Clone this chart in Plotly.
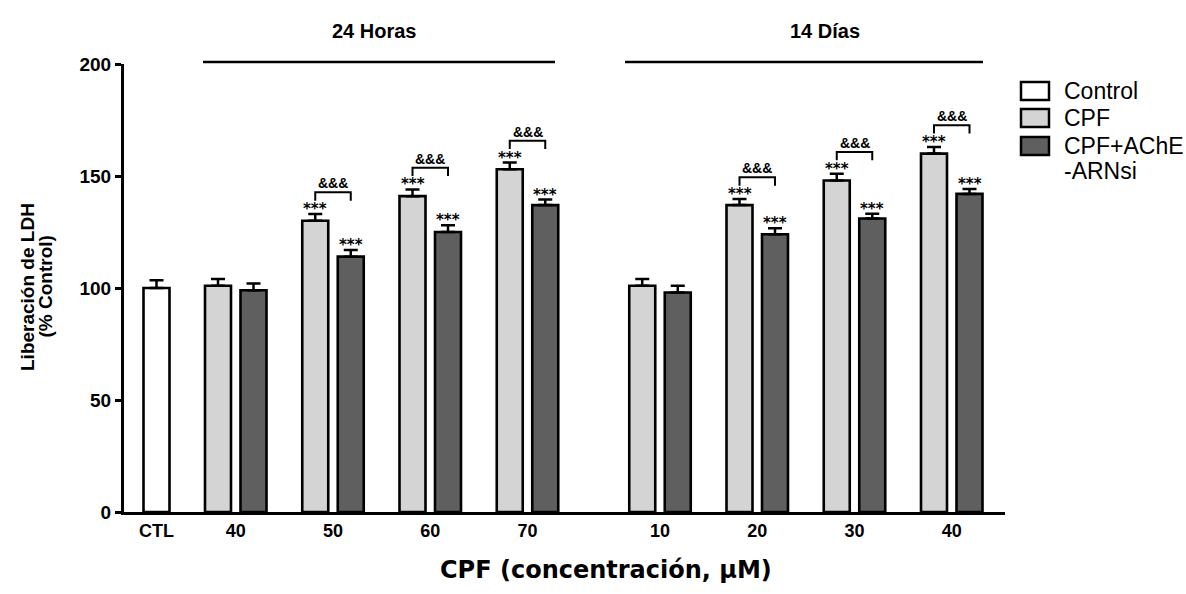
import plotly.graph_objects as go

# ---- data: LDH release (% of control), mean and SEM ----
ctl_label = "CTL"
ctl_mean = [100]
ctl_sem = [3.5]

doses_24h = ["40", "50", "60", "70"]
cpf_24h = [101, 130, 141, 153]
cpf_24h_sem = [3, 3, 3, 3]
sirna_24h = [99, 114, 125, 137]
sirna_24h_sem = [3, 3, 3, 2.5]

doses_14d = ["10", "20", "30", "40"]
cpf_14d = [101, 137, 148, 160]
cpf_14d_sem = [3, 2.7, 3, 3]
sirna_14d = [98, 124, 131, 142]
sirna_14d_sem = [3, 2.7, 2.2, 2.2]

# significance vs control (***) and CPF vs CPF+siRNA (&&&)
sig_24h = [False, True, True, True]
sig_14d = [False, True, True, True]

series_names = ["Control", "CPF", "CPF+AChE", "-ARNsi"]
period_labels = ["24 Horas", "14 Días"]

# ---- styling / layout ----
W, H = 1186, 594
PLOT_L, PLOT_R, PLOT_T, PLOT_B = 124, 1005, 64, 512
C_CTL, C_CPF, C_SI = "#ffffff", "#d4d4d4", "#5f5f5f"
BAR_W = 26
HALF = 17.75
PITCH = 97.25
CTL_POS = 32.5
FIRST_24 = 111.75
FIRST_14 = 536.0
OUTLINE = dict(color="black", width=2.6)
XTICK_FONT = dict(family="Liberation Sans", size=18, color="black", weight="bold")
YTICK_FONT = dict(family="Liberation Sans", size=19, color="black", weight="bold")


def paper_x(px):
    return (px - PLOT_L) / (PLOT_R - PLOT_L)


def paper_y(py):
    return (PLOT_B - py) / (PLOT_B - PLOT_T)


centers_24 = [FIRST_24 + PITCH * i for i in range(len(doses_24h))]
centers_14 = [FIRST_14 + PITCH * i for i in range(len(doses_14d))]
centers = centers_24 + centers_14

cpf_vals = cpf_24h + cpf_14d
cpf_sems = cpf_24h_sem + cpf_14d_sem
si_vals = sirna_24h + sirna_14d
si_sems = sirna_24h_sem + sirna_14d_sem
sig = sig_24h + sig_14d

cpf_x = [c - HALF for c in centers]
si_x = [c + HALF for c in centers]


def err(sem):
    return dict(type="data", symmetric=False, array=sem, arrayminus=[0] * len(sem),
                thickness=2.5, width=7, color="black")


fig = go.Figure()
fig.add_trace(go.Bar(x=[CTL_POS], y=ctl_mean, width=BAR_W, name=series_names[0],
                     marker=dict(color=C_CTL, line=OUTLINE), error_y=err(ctl_sem)))
fig.add_trace(go.Bar(x=cpf_x, y=cpf_vals, width=BAR_W, name=series_names[1],
                     marker=dict(color=C_CPF, line=OUTLINE), error_y=err(cpf_sems)))
fig.add_trace(go.Bar(x=si_x, y=si_vals, width=BAR_W, name=series_names[2] + series_names[3],
                     marker=dict(color=C_SI, line=OUTLINE), error_y=err(si_sems)))

shapes = []
annotations = []
star_font = dict(family="DejaVu Sans", size=15, color="black", weight="bold")
amp_font = dict(family="Liberation Sans", size=14, color="black", weight="bold")


def note(x, y, text, font, xref="paper", yref="paper", xanchor="center", yanchor="middle", **kw):
    annotations.append(dict(x=x, y=y, xref=xref, yref=yref, text=text, showarrow=False,
                            xanchor=xanchor, yanchor=yanchor, font=font, **kw))


for i, s in enumerate(sig):
    if not s:
        continue
    top_c = cpf_vals[i] + cpf_sems[i]
    top_s = si_vals[i] + si_sems[i]
    note(cpf_x[i], top_c, "***", star_font, "x", "y", yanchor="bottom", yshift=-6)
    note(si_x[i], top_s, "***", star_font, "x", "y", yanchor="bottom", yshift=-6)
    b_top = top_c + 9.7
    b_leg = b_top - 3.7
    shapes.append(dict(type="path", xref="x", yref="y",
                       path=f"M {cpf_x[i]},{b_leg} L {cpf_x[i]},{b_top} L {si_x[i]},{b_top} L {si_x[i]},{b_leg}",
                       line=dict(color="black", width=2)))
    note(centers[i], b_top, "&&&", amp_font, "x", "y", yanchor="bottom", yshift=-1)

# period headers with spanning lines
head_font = dict(family="Liberation Sans", size=20, color="black", weight="bold")
spans = [(203, 555, 374), (625, 983, 825)]
for (x0, x1, xc), lab in zip(spans, period_labels):
    shapes.append(dict(type="line", xref="paper", yref="paper",
                       x0=paper_x(x0), x1=paper_x(x1), y0=paper_y(62), y1=paper_y(62),
                       line=dict(color="black", width=2.5)))
    note(paper_x(xc), paper_y(31), lab, head_font)

# axis titles
ytitle_font = dict(family="Liberation Sans", size=19, color="black", weight="bold")
note(paper_x(27), paper_y(287), "Liberación de LDH", ytitle_font, textangle=-90)
note(paper_x(44.5), paper_y(287), "(% Control)", ytitle_font, textangle=-90)
note(paper_x(606), paper_y(570), "CPF (concentración, μM)",
     dict(family="DejaVu Sans", size=24, color="black", weight="bold"))

# legend drawn as boxes + labels
leg_font = dict(family="Liberation Sans", size=23, color="black")
leg_rows = [(91, C_CTL, series_names[0]), (118, C_CPF, series_names[1]), (146, C_SI, series_names[2])]
for cy, col, lab in leg_rows:
    shapes.append(dict(type="rect", xref="paper", yref="paper",
                       x0=paper_x(1021), x1=paper_x(1049), y0=paper_y(cy + 9), y1=paper_y(cy - 9),
                       fillcolor=col, line=dict(color="black", width=2.5)))
    note(paper_x(1062), paper_y(cy), lab, leg_font, xanchor="left")
note(paper_x(1062), paper_y(171), series_names[3], leg_font, xanchor="left")

fig.update_layout(
    width=W, height=H,
    margin=dict(l=PLOT_L, r=W - PLOT_R, t=PLOT_T, b=H - PLOT_B, pad=0),
    paper_bgcolor="white", plot_bgcolor="white",
    barmode="overlay", showlegend=False,
    shapes=shapes, annotations=annotations,
    xaxis=dict(range=[0, PLOT_R - PLOT_L], showline=True, linewidth=3, linecolor="black",
               showgrid=False, zeroline=False, ticks="",
               tickvals=[CTL_POS] + centers, ticktext=[ctl_label] + doses_24h + doses_14d,
               tickfont=XTICK_FONT),
    yaxis=dict(range=[0, 200], showline=True, linewidth=3, linecolor="black",
               showgrid=False, zeroline=False, ticks="outside", ticklen=6, tickwidth=3,
               tickcolor="black", tickvals=[0, 50, 100, 150, 200], tickfont=YTICK_FONT),
)

fig.write_html("out.html")
